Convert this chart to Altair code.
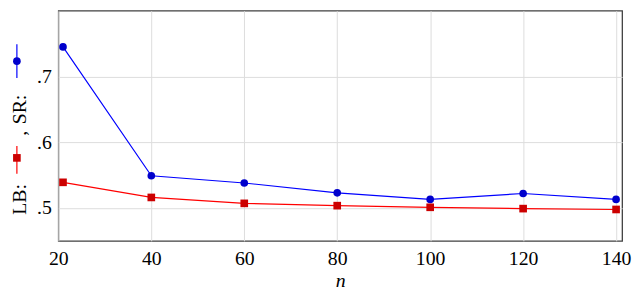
import altair as alt
import pandas as pd

n_values = [21, 40, 60, 80, 100, 120, 140]
sr_values = [0.745, 0.549, 0.538, 0.523, 0.513, 0.522, 0.513]
lb_values = [0.539, 0.516, 0.507, 0.5035, 0.501, 0.499, 0.4977]
series_names = ["SR", "LB"]
x_ticks = [20, 40, 60, 80, 100, 120, 140]
y_ticks = [0.5, 0.6, 0.7]

FONT = "Liberation Serif"
BLUE_LINE, BLUE_MARK = "#0000ff", "#0000cc"
RED_LINE, RED_MARK = "#ff0000", "#cc0000"

rows = []
for n, v in zip(n_values, sr_values):
    rows.append({"n": n, "v": v, "s": "SR"})
for n, v in zip(n_values, lb_values):
    rows.append({"n": n, "v": v, "s": "LB"})
df = pd.DataFrame(rows)

xs = alt.X("n:Q", scale=alt.Scale(domain=[20, 141.3], nice=False, zero=False),
           axis=alt.Axis(values=x_ticks, title="n", titleFontStyle="italic",
                         titleFont=FONT, titleFontSize=20, titleFontWeight="normal",
                         titlePadding=2, labelFont=FONT, labelFontSize=20,
                         labelPadding=8, ticks=False, domain=False,
                         gridColor="#dcdcdc", labelColor="#000", titleColor="#000",
                         labelFlush=False))
ys = alt.Y("v:Q", scale=alt.Scale(domain=[0.45, 0.80], nice=False, zero=False),
           axis=alt.Axis(values=y_ticks, title=None, labelExpr="slice(format(datum.value, '.1f'), 1)",
                         labelFont=FONT, labelFontSize=20, labelPadding=7, ticks=False,
                         domain=False, gridColor="#dcdcdc", labelColor="#000"))

line_color = alt.Color("s:N", scale=alt.Scale(domain=series_names, range=[BLUE_LINE, RED_LINE]), legend=None)

base = alt.Chart(df)
lines = base.mark_line(strokeWidth=1.2).encode(x=xs, y=ys, color=line_color, detail="s:N")
sr_pts = alt.Chart(df[df.s == "SR"]).mark_point(shape="circle", filled=True, size=60, opacity=1, color=BLUE_MARK).encode(x=xs, y=ys)
lb_pts = alt.Chart(df[df.s == "LB"]).mark_point(shape="square", filled=True, size=60, opacity=1, color=RED_MARK).encode(x=xs, y=ys)

# rotated y-axis title with inline legend glyphs
one = pd.DataFrame({"k": [0]})
TX = -33
GX = -42
def ttext(t, y):
    return alt.Chart(one).mark_text(text=t, angle=270, font=FONT, fontSize=20, align="center",
                                    baseline="alphabetic", color="#000").encode(
        x=alt.value(TX), y=alt.value(y))

t_lb = ttext("LB:", 191)
t_comma = ttext(",", 124)
t_sr = ttext("SR:", 100)
red_seg = alt.Chart(one).mark_rule(color=RED_LINE, strokeWidth=1.2).encode(
    x=alt.value(GX), y=alt.value(137), y2=alt.value(165))
red_sq = alt.Chart(one).mark_point(shape="square", filled=True, size=60, opacity=1, color=RED_MARK).encode(
    x=alt.value(GX), y=alt.value(149))
blue_seg = alt.Chart(one).mark_rule(color=BLUE_LINE, strokeWidth=1.2).encode(
    x=alt.value(GX), y=alt.value(34), y2=alt.value(68))
blue_pt = alt.Chart(one).mark_point(shape="circle", filled=True, size=60, opacity=1, color=BLUE_MARK).encode(
    x=alt.value(GX), y=alt.value(51))

chart = alt.layer(lines, sr_pts, lb_pts, t_lb, t_comma, t_sr, red_seg, red_sq, blue_seg, blue_pt).properties(
    width=571, height=233,
    background="white",
    autosize=alt.AutoSizeParams(type="none"),
    padding={"left": 51, "top": 1, "right": 10, "bottom": 48},
).configure_view(stroke="#404040", strokeWidth=1.3)

chart.save("out.html", embed_options={"renderer": "svg", "actions": False})
